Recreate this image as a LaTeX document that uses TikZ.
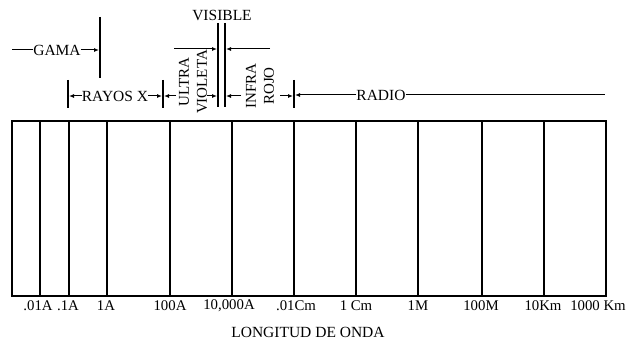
\documentclass[tikz,border=0pt]{standalone}
\usepackage{fontspec}
\setmainfont{Liberation Serif}
\usetikzlibrary{arrows.meta}
\begin{document}
\begin{tikzpicture}[x=1pt,y=-1pt,
  lbl/.style={inner sep=0pt,font=\fontsize{15.5}{18}\selectfont},
  blbl/.style={inner sep=0pt,font=\fontsize{14.8}{18}\selectfont},
  rlbl/.style={inner sep=0pt,rotate=90,align=center,font=\fontsize{15}{18}\selectfont},
  bar/.style={line width=1.4pt},
  arr/.style={line width=1pt,-{Latex[length=5pt,width=4pt]}},
  plain/.style={line width=1pt},
  frame/.style={line width=1.6pt},
  div/.style={line width=1.3pt}]
\useasboundingbox (0,0) rectangle (629,342);
% spectrum box
\coordinate (tl) at (12,121);
\coordinate (br) at (606,296);
\draw[frame] (tl) rectangle (br);
\foreach \x in {40,69,107,170,232,294,356,418,482,544}{
  \draw[div] (\x,121) -- (\x,296);
}
% bottom labels
\node[blbl] (l1) at (38,306) {.01A};
\node[blbl] (l2) at (68,306) {.1A};
\node[blbl] (l3) at (106,306) {1A};
\node[blbl] (l4) at (170,306) {100A};
\node[blbl] (l5) at (229,306) {10,000A};
\node[blbl] (l6) at (296,306) {.01Cm};
\node[blbl] (l7) at (356,306) {1 Cm};
\node[blbl] (l8) at (418,306) {1M};
\node[blbl] (l9) at (481,306) {100M};
\node[blbl] (l10) at (543,306) {10Km};
\node[blbl] (l11) at (598,306) {1000 Km};
\node[lbl] (title) at (308,332) {LONGITUD DE ONDA};
% GAMA
\coordinate (g0) at (12,50);
\node[lbl] (gama) at (57,50) {GAMA};
\coordinate (gt) at (100,17);
\coordinate (gb) at (100,78);
\coordinate (ga) at (99,50);
\draw[bar] (gt) -- (gb);
\draw[plain] (g0) -- (gama.west);
\draw[arr] (gama.east) -- (ga);
% RAYOS X
\coordinate (t1t) at (68,80); \coordinate (t1b) at (68,108);
\coordinate (t2t) at (163,80); \coordinate (t2b) at (163,108);
\coordinate (t3t) at (294,80); \coordinate (t3b) at (294,108);
\draw[bar] (t1t) -- (t1b);
\draw[bar] (t2t) -- (t2b);
\draw[bar] (t3t) -- (t3b);
\node[lbl] (rx) at (115,96) {RAYOS X};
\coordinate (rxl) at (69,96);
\coordinate (rxr) at (162,96);
\draw[arr] (rx.west) -- (rxl);
\draw[arr] (rx.east) -- (rxr);
% ULTRAVIOLETA
\node[rlbl] (uv) at (193,82) {ULTRA\\VIOLETA};
\coordinate (uvs) at (176,96);
\coordinate (uvl) at (164,96);
\draw[arr] (uvs) -- (uvl);
\coordinate (uve) at (207,96);
\coordinate (uvr) at (217,96);
\draw[arr] (uve) -- (uvr);
% VISIBLE
\node[lbl] (vis) at (222,15) {VISIBLE};
\coordinate (v1t) at (218,23); \coordinate (v1b) at (218,107);
\coordinate (v2t) at (225,23); \coordinate (v2b) at (225,107);
\draw[bar] (v1t) -- (v1b);
\draw[bar] (v2t) -- (v2b);
\coordinate (ua0) at (174,49); \coordinate (ua1) at (217,49);
\coordinate (ub0) at (270,49); \coordinate (ub1) at (226,49);
\draw[arr] (ua0) -- (ua1);
\draw[arr] (ub0) -- (ub1);
% INFRA ROJO
\node[rlbl] (ir) at (260,86) {INFRA\\ROJO};
\coordinate (irs) at (241,96);
\coordinate (irl) at (226,96);
\draw[arr] (irs) -- (irl);
\coordinate (ire) at (280,96);
\coordinate (irr) at (293,96);
\draw[arr] (ire) -- (irr);
% RADIO
\node[lbl] (radio) at (381,95) {RADIO};
\coordinate (rl) at (295,95);
\coordinate (rr) at (605,95);
\draw[arr] (radio.west) -- (rl);
\draw[plain] (radio.east) -- (rr);
\end{tikzpicture}
\end{document}
